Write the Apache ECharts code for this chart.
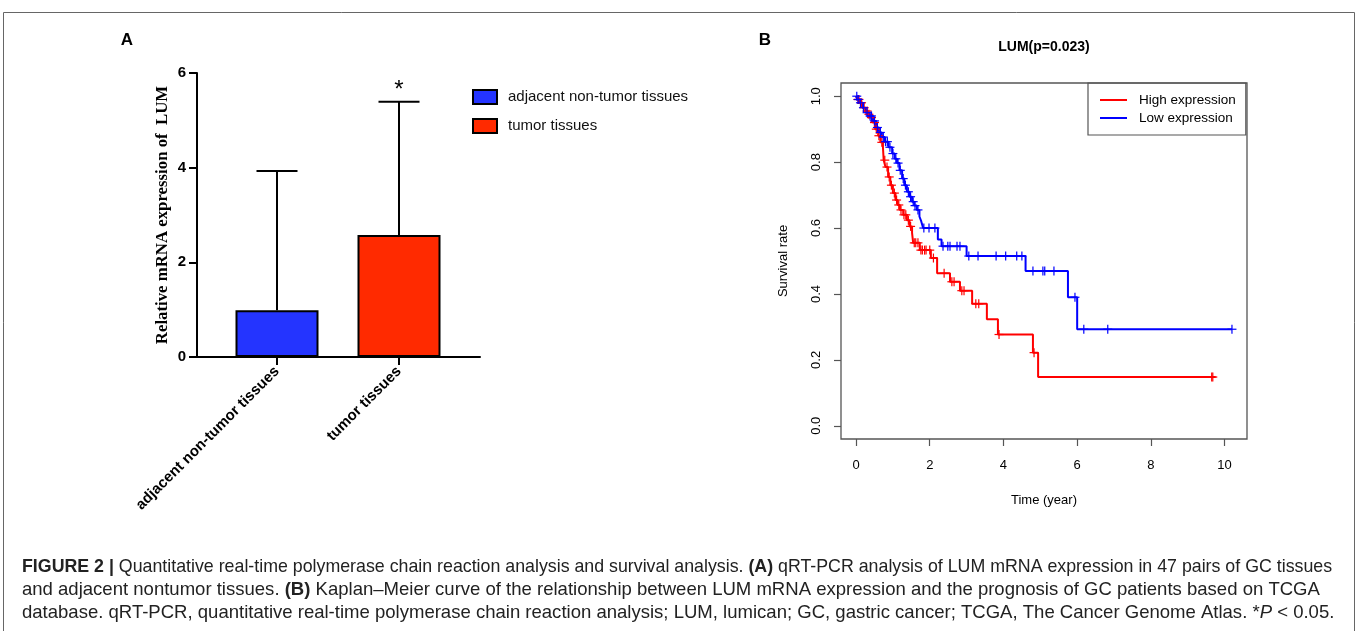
<!DOCTYPE html>
<html>
<head>
<meta charset="utf-8">
<script src="https://cdn.jsdelivr.net/npm/echarts@6/dist/echarts.min.js"></script>
<style>
html,body{margin:0;padding:0;background:#fff;}
#chart{width:1358px;height:631px;}
</style>
</head>
<body>
<div id="chart"></div>
<script>
// ---------- Panel A data ----------
const catA = ['adjacent non-tumor tissues', 'tumor tissues'];
const meanA = [0.99, 2.58];
const errTopA = [3.93, 5.39];
const sigA = ['', '*'];
const colorsA = ['#2434ff', '#ff2a00'];

// ---------- Panel B data (Kaplan-Meier) ----------
const kmNames = ['High expression', 'Low expression'];
const highT = [0.00,0.04,0.10,0.18,0.26,0.32,0.38,0.45,0.52,0.60,0.66,0.73,0.75,0.80,0.87,0.93,1.00,1.07,1.13,1.19,1.28,1.38,1.45,1.52,1.55,1.73,2.03,2.20,2.55,2.82,3.15,3.55,3.85,4.80,4.94,9.75];
const highS = [1.00,0.99,0.98,0.965,0.955,0.945,0.935,0.92,0.90,0.88,0.86,0.845,0.806,0.785,0.755,0.73,0.706,0.685,0.67,0.655,0.64,0.624,0.605,0.585,0.555,0.533,0.509,0.463,0.437,0.41,0.37,0.323,0.277,0.222,0.148,0.148];
const highCensor = [0.05,0.08,0.15,0.22,0.30,0.35,0.42,0.50,0.55,0.62,0.70,0.78,0.84,0.90,0.96,1.04,1.10,1.16,1.22,1.30,1.35,1.42,1.48,1.58,1.62,1.68,1.76,1.80,1.86,1.90,2.00,2.10,2.39,2.60,2.66,2.87,2.93,3.25,3.33,3.88,4.83,9.65,9.68];
const lowT = [0.00,0.04,0.10,0.18,0.26,0.34,0.46,0.55,0.62,0.70,0.78,0.88,0.98,1.05,1.11,1.18,1.25,1.31,1.38,1.45,1.52,1.58,1.65,1.72,1.77,1.82,2.22,2.32,3.00,4.60,5.75,6.00,10.20];
const lowS = [1.00,0.99,0.98,0.965,0.95,0.94,0.925,0.905,0.89,0.876,0.862,0.845,0.826,0.81,0.797,0.775,0.75,0.73,0.71,0.695,0.68,0.668,0.655,0.635,0.62,0.60,0.565,0.545,0.515,0.47,0.39,0.293,0.293];
const lowCensor = [0.02,0.06,0.12,0.20,0.30,0.38,0.42,0.50,0.58,0.66,0.74,0.80,0.85,0.92,1.00,1.08,1.14,1.20,1.28,1.34,1.42,1.48,1.55,1.60,1.68,1.84,1.98,2.14,2.36,2.49,2.55,2.74,2.82,3.06,3.31,3.80,4.06,4.36,4.50,4.80,5.07,5.12,5.37,5.94,6.18,6.83,10.20];
const kmColors = ['#ff0000', '#0000ff'];
const kmXTicks = [0, 2, 4, 6, 8, 10];
const kmYTicks = [0, 0.2, 0.4, 0.6, 0.8, 1.0];

// ---------- helpers ----------
function stepLookup(T, S, t) {
  let v = S[0];
  for (let i = 0; i < T.length; i++) { if (T[i] <= t) v = S[i]; }
  return v;
}
function censorItem(color) {
  return function (params, api) {
    const p = api.coord([api.value(0), api.value(1)]);
    const h = 4.5;
    const st = { stroke: color, lineWidth: 1.2 };
    return { type: 'group', children: [
      { type: 'line', shape: { x1: p[0] - h, y1: p[1], x2: p[0] + h, y2: p[1] }, style: st },
      { type: 'line', shape: { x1: p[0], y1: p[1] - h, x2: p[0], y2: p[1] + h }, style: st }
    ]};
  };
}

const sansFont = '"Liberation Sans", Arial, Helvetica, sans-serif';
const chart = echarts.init(document.getElementById('chart'), null, { renderer: 'canvas' });

const barSeries = catA.map((name, i) => ({
  name: name,
  type: 'bar',
  xAxisIndex: 1, yAxisIndex: 1,
  data: catA.map((c, j) => (j === i ? meanA[i] : '-')),
  barWidth: 83,
  barGap: '-100%',
  itemStyle: { color: colorsA[i], borderColor: '#000', borderWidth: 2 },
  z: 3
}));

const errSeries = {
  type: 'custom',
  xAxisIndex: 1, yAxisIndex: 1,
  data: catA.map((c, i) => [i, meanA[i], errTopA[i]]),
  renderItem: function (params, api) {
    const base = api.coord([api.value(0), api.value(1)]);
    const top = api.coord([api.value(0), api.value(2)]);
    const st = { stroke: '#000', lineWidth: 2 };
    const children = [
      { type: 'line', shape: { x1: base[0], y1: base[1], x2: top[0], y2: top[1] }, style: st },
      { type: 'line', shape: { x1: top[0] - 20.5, y1: top[1], x2: top[0] + 20.5, y2: top[1] }, style: st }
    ];
    const s = sigA[params.dataIndex];
    if (s) {
      children.push({ type: 'text', x: top[0], y: top[1] + 1,
        style: { text: s, fill: '#000', font: '24px ' + sansFont, align: 'center', verticalAlign: 'bottom' } });
    }
    return { type: 'group', children: children };
  },
  z: 2
};

const kmLines = [[highT, highS], [lowT, lowS]].map((d, i) => ({
  name: kmNames[i],
  type: 'line',
  xAxisIndex: 2, yAxisIndex: 2,
  step: 'end',
  showSymbol: false,
  symbol: 'none',
  data: d[0].map((t, k) => [t, d[1][k]]),
  lineStyle: { color: kmColors[i], width: 2 },
  itemStyle: { color: kmColors[i] },
  z: 3
}));
const kmCensors = [[highT, highS, highCensor], [lowT, lowS, lowCensor]].map((d, i) => ({
  type: 'custom',
  xAxisIndex: 2, yAxisIndex: 2,
  data: d[2].map(t => [t, stepLookup(d[0], d[1], t)]),
  renderItem: censorItem(kmColors[i]),
  z: 4
}));

const capFonts = [17.8, 18.55, 18.55];
function capStyle(k, text, rich) {
  return { text: text, font: capFonts[k] + 'px ' + sansFont, fill: '#222', verticalAlign: 'middle', rich: rich };
}
const option = {
  animation: false,
  backgroundColor: '#fff',
  grid: [
    { left: 197, right: 878, top: 73, bottom: 274 },
    { left: 216, right: 898, top: 73, bottom: 274 },
    { left: 841, right: 111, top: 83, bottom: 192, show: true, borderColor: '#555', borderWidth: 1.3, backgroundColor: 'transparent' }
  ],
  xAxis: [
    { gridIndex: 0, type: 'value', min: 0, max: 1,
      axisLine: { show: true, onZero: false, lineStyle: { color: '#000', width: 2 } },
      axisTick: { show: false }, axisLabel: { show: false }, splitLine: { show: false } },
    { gridIndex: 1, type: 'category', data: catA,
      axisLine: { show: false, onZero: false },
      axisTick: { show: true, alignWithLabel: true, length: 8, lineStyle: { color: '#000', width: 2 } },
      axisLabel: { rotate: 45, margin: 12, color: '#000', fontFamily: sansFont, fontWeight: 'bold', fontSize: 15 },
      splitLine: { show: false } },
    { gridIndex: 2, type: 'value', min: -0.408, max: 10.608,
      name: 'Time (year)', nameLocation: 'middle', nameGap: 55,
      nameTextStyle: { color: '#000', fontFamily: sansFont, fontSize: 13 },
      axisLine: { show: false, onZero: false },
      axisTick: { show: true, customValues: kmXTicks, length: 7, lineStyle: { color: '#555', width: 1.2 } },
      axisLabel: { customValues: kmXTicks, margin: 20, color: '#000', fontFamily: sansFont, fontSize: 13 },
      splitLine: { show: false } }
  ],
  yAxis: [
    { gridIndex: 0, type: 'value', min: 0, max: 6, interval: 2,
      name: 'Relative mRNA expression of  LUM', nameLocation: 'middle', nameGap: 26,
      nameTextStyle: { color: '#000', fontFamily: '"Liberation Serif", "Times New Roman", serif', fontWeight: 'bold', fontSize: 16.8 },
      axisLine: { show: true, onZero: false, lineStyle: { color: '#000', width: 2 } },
      axisTick: { show: true, length: 8, lineStyle: { color: '#000', width: 2 } },
      axisLabel: { color: '#000', fontFamily: sansFont, fontWeight: 'bold', fontSize: 15, margin: 11 },
      splitLine: { show: false } },
    { gridIndex: 1, type: 'value', min: 0, max: 6, interval: 2, show: false },
    { gridIndex: 2, type: 'value', min: -0.04, max: 1.04,
      name: 'Survival rate', nameLocation: 'middle', nameGap: 51,
      nameTextStyle: { color: '#000', fontFamily: sansFont, fontSize: 13 },
      axisLine: { show: false, onZero: false },
      axisTick: { show: true, customValues: kmYTicks, length: 7, lineStyle: { color: '#555', width: 1.2 } },
      axisLabel: { customValues: kmYTicks, rotate: 90, margin: 18, color: '#000', fontFamily: sansFont, fontSize: 13,
        formatter: v => v.toFixed(1) },
      splitLine: { show: false } }
  ],
  legend: [
    { data: catA, orient: 'vertical', left: 472, top: 89, padding: 0, icon: 'rect', itemWidth: 24, itemHeight: 14, itemGap: 13,
      itemStyle: { borderColor: '#000', borderWidth: 2 },
      textStyle: { color: '#111', fontFamily: sansFont, fontSize: 15, padding: [0, 0, 0, 6] } },
    { data: kmNames, orient: 'vertical', left: 1088, top: 83, icon: 'rect', itemWidth: 27, itemHeight: 2, itemGap: 4,
      borderColor: '#555', borderWidth: 1.2, padding: [10, 10, 10, 12],
      textStyle: { color: '#000', fontFamily: sansFont, fontSize: 13.5, padding: [0, 0, 0, 7] } }
  ],
  series: [].concat(barSeries, [errSeries], kmLines, kmCensors),
  graphic: [
    { type: 'rect', shape: { x: 3.5, y: 12.5, width: 1351, height: 700 }, style: { fill: 'none', stroke: '#666', lineWidth: 1 }, silent: true },
    { type: 'text', x: 127, y: 40, style: { text: 'A', font: 'bold 17px ' + sansFont, fill: '#000', align: 'center', verticalAlign: 'middle' } },
    { type: 'text', x: 765, y: 40, style: { text: 'B', font: 'bold 17px ' + sansFont, fill: '#000', align: 'center', verticalAlign: 'middle' } },
    { type: 'text', x: 1044, y: 47, style: { text: 'LUM(p=0.023)', font: 'bold 14px ' + sansFont, fill: '#000', align: 'center', verticalAlign: 'middle' } },
    { type: 'text', x: 22, y: 567, style: capStyle(0,
        '{b|FIGURE 2 |} Quantitative real-time polymerase chain reaction analysis and survival analysis. {b|(A)} qRT-PCR analysis of LUM mRNA expression in 47 pairs of GC tissues',
        { b: { fontWeight: 'bold', fontSize: capFonts[0], fontFamily: sansFont, fill: '#222' } }) },
    { type: 'text', x: 22, y: 590, style: capStyle(1,
        'and adjacent nontumor tissues. {b|(B)} Kaplan\u2013Meier curve of the relationship between LUM mRNA expression and the prognosis of GC patients based on TCGA',
        { b: { fontWeight: 'bold', fontSize: capFonts[1], fontFamily: sansFont, fill: '#222' } }) },
    { type: 'text', x: 22, y: 613, style: capStyle(2,
        'database. qRT-PCR, quantitative real-time polymerase chain reaction analysis; LUM, lumican; GC, gastric cancer; TCGA, The Cancer Genome Atlas. *{i|P} < 0.05.',
        { i: { fontStyle: 'italic', fontSize: capFonts[2], fontFamily: sansFont, fill: '#222' } }) }
  ]
};
chart.setOption(option);
</script>
</body>
</html>
